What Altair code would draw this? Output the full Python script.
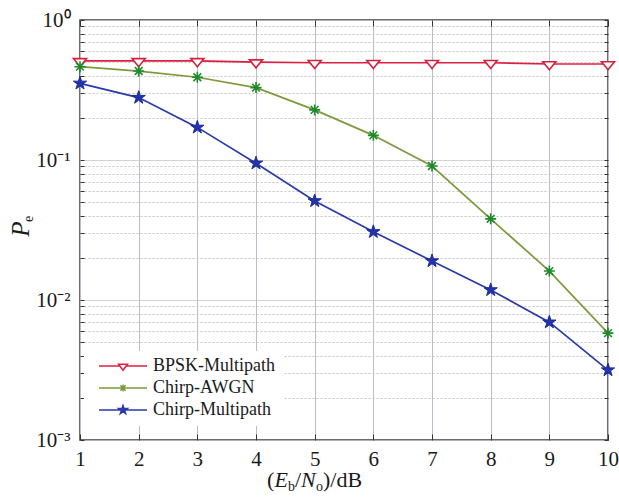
import altair as alt
import pandas as pd

# ---------------- data ----------------
snr_db = [1, 2, 3, 4, 5, 6, 7, 8, 9, 10]
series_names = ["BPSK-Multipath", "Chirp-AWGN", "Chirp-Multipath"]
bpsk_multipath = [0.51, 0.51, 0.51, 0.50, 0.495, 0.495, 0.495, 0.495, 0.485, 0.485]
chirp_awgn = [0.464, 0.432, 0.39, 0.329, 0.228, 0.150, 0.0906, 0.038, 0.0161, 0.0058]
chirp_multipath = [0.353, 0.279, 0.171, 0.0948, 0.0510, 0.0307, 0.0190, 0.0118, 0.00694, 0.00316]

x_ticks = [1, 2, 3, 4, 5, 6, 7, 8, 9, 10]
y_major_ticks = [0.001, 0.01, 0.1, 1]
y_major_labels = ["10⁻³", "10⁻²", "10⁻¹", "10⁰"]
y_minor_ticks = [0.002, 0.003, 0.004, 0.005, 0.006, 0.007, 0.008, 0.009,
                 0.02, 0.03, 0.04, 0.05, 0.06, 0.07, 0.08, 0.09,
                 0.2, 0.3, 0.4, 0.5, 0.6, 0.7, 0.8, 0.9]

x_title_parts = ["(", "E", "b", "/", "N", "o", ")/dB"]
y_title_parts = ["P", "e"]

df = pd.DataFrame({
    "snr": snr_db * 3,
    "series": [series_names[0]] * 10 + [series_names[1]] * 10 + [series_names[2]] * 10,
    "pe": bpsk_multipath + chirp_awgn + chirp_multipath,
})

# ---------------- styles ----------------
FONT = "Liberation Serif"
line_colors = ["#dc2040", "#7d9a3c", "#2a3aa8"]
legend_fills = ["white", "white", "#2433a8"]

tri_path = "M-1,-0.35L1,-0.35L0,0.88Z"
ast_path = "M-1,0L1,0M0,-1L0,1M-0.7,-0.7L0.7,0.7M-0.7,0.7L0.7,-0.7"
star_path = ("M0,-1L0.2245,-0.309L0.951,-0.309L0.363,0.118L0.588,0.809L0,0.382"
             "L-0.588,0.809L-0.363,0.118L-0.951,-0.309L-0.2245,-0.309Z")

leg_tri = "M-4,0L-0.53,0M0.53,0L4,0M-0.75,-0.3L0.75,-0.3L0,0.7Z"
leg_ast = "M-4,0L4,0M0,-0.6L0,0.6M-0.45,-0.45L0.45,0.45M-0.45,0.45L0.45,-0.45"
leg_star = ("M-4,0L4,0M0,-0.75L0.168,-0.232L0.713,-0.232L0.272,0.089L0.441,0.607L0,0.287"
            "L-0.441,0.607L-0.272,0.089L-0.713,-0.232L-0.168,-0.232Z")

x_scale = alt.Scale(domain=[1, 10], nice=False, zero=False)
y_scale = alt.Scale(type="log", domain=[0.001, 1], nice=False)

label_expr = " : ".join(
    f"datum.value == {v} ? '{l}'" for v, l in zip(y_major_ticks, y_major_labels)
) + " : ''"
major_test = "indexof([" + ",".join(str(v) for v in y_major_ticks) + "], datum.value) >= 0"

x_main_axis = alt.Axis(values=x_ticks, grid=True, gridColor="#b9bdc9", gridWidth=1,
                       ticks=False, domain=False, labelFont=FONT, labelFontSize=21,
                       labelColor="#1a1a1a", labelPadding=8, title=None, labelFlush=False)
y_main_axis = alt.Axis(values=y_major_ticks + y_minor_ticks, grid=True,
                       gridColor="#c6c6c6", gridWidth=1,
                       gridDash={"condition": {"test": major_test, "value": [1, 0]}, "value": [2, 2]},
                       ticks=False, domain=False, labelExpr=label_expr, labelFont=FONT,
                       labelFontSize=21, labelColor="#1a1a1a", labelPadding=10, title=None)

legend = alt.Legend(
    title=None, orient="none", legendX=4, legendY=331, direction="vertical",
    fillColor="white", strokeColor="white", padding=6, rowPadding=4,
    labelFont=FONT, labelFontSize=18, labelColor="#1a1a1a",
    symbolSize=144, symbolStrokeWidth=1.5, symbolOffset=24, labelOffset=21,
    symbolOpacity=1, symbolFillColor="white",
)

color_scale = alt.Scale(domain=series_names, range=line_colors)

base = alt.Chart(df)

# legend-only layer (draws no marks, supplies the merged colour/fill/shape legend)
legend_layer = base.transform_filter("false").mark_point(opacity=1, filled=False, strokeWidth=1.5).encode(
    x=alt.X("snr:Q", scale=x_scale, axis=None),
    y=alt.Y("pe:Q", scale=y_scale, axis=None),
    color=alt.Color("series:N", scale=color_scale, legend=legend),
    fill=alt.Fill("series:N", scale=alt.Scale(domain=series_names, range=legend_fills), legend=legend),
    shape=alt.Shape("series:N", scale=alt.Scale(domain=series_names,
                                                range=[leg_tri, leg_ast, leg_star]), legend=legend),
)

lines = base.mark_line(strokeWidth=1.7).encode(
    x=alt.X("snr:Q", scale=x_scale, axis=x_main_axis),
    y=alt.Y("pe:Q", scale=y_scale, axis=y_main_axis),
    color=alt.Color("series:N", scale=color_scale, legend=legend),
)

def markers(name, **kw):
    return base.transform_filter(alt.datum.series == name).mark_point(opacity=1, **kw).encode(
        x=alt.X("snr:Q", scale=x_scale, axis=None),
        y=alt.Y("pe:Q", scale=y_scale, axis=None),
    )

m_bpsk = markers(series_names[0], shape=tri_path, size=169, filled=False, fill="white",
                 stroke="#d8203c", strokeWidth=1.6)
m_awgn = markers(series_names[1], shape=ast_path, size=121, filled=False,
                 stroke="#1f8a2a", strokeWidth=1.6)
m_mp = markers(series_names[2], shape=star_path, size=196, filled=True, fill="#2433a8",
               stroke="#1c2a9c", strokeWidth=1.0)

def tick_layer(xorient, yorient):
    xa = alt.Axis(orient=xorient, values=x_ticks, labels=False, grid=False, domain=False,
                  ticks=True, tickSize=6, tickColor="#333333", tickWidth=1, offset=-6, title=None)
    ya = alt.Axis(orient=yorient, values=y_major_ticks + y_minor_ticks, labels=False, grid=False,
                  domain=False, ticks=True, tickSize=4, tickColor="#333333", tickWidth=1,
                  offset=-4, title=None)
    return base.transform_filter("false").mark_point(opacity=0).encode(
        x=alt.X("snr:Q", scale=x_scale, axis=xa),
        y=alt.Y("pe:Q", scale=y_scale, axis=ya),
    )

ticks_bl = tick_layer("bottom", "left")
ticks_tr = tick_layer("top", "right")

def text_piece(txt, x, y, size, italic=False, angle=0):
    return alt.Chart(pd.DataFrame({"t": [txt]})).mark_text(
        font=FONT, fontSize=size, fontStyle="italic" if italic else "normal",
        align="left" if angle == 0 else "center", baseline="alphabetic" if angle == 0 else "middle",
        angle=angle, color="#1a1a1a",
    ).encode(text="t:N", x=alt.value(x), y=alt.value(y))

# x title pieces "(E_b/N_o)/dB"
XT = 467
xt = [
    text_piece(x_title_parts[0], 187, XT, 22),
    text_piece(x_title_parts[1], 194.5, XT, 22, italic=True),
    text_piece(x_title_parts[2], 208, XT + 4, 14),
    text_piece(x_title_parts[3], 215, XT, 22),
    text_piece(x_title_parts[4], 221, XT, 22, italic=True),
    text_piece(x_title_parts[5], 236, XT + 4, 14),
    text_piece(x_title_parts[6], 243, XT, 22),
]
# y title "P_e"
yt = [
    text_piece(y_title_parts[0], -59, 209, 25, italic=True, angle=270),
    text_piece(y_title_parts[1], -51, 199, 14, angle=270),
]

chart = alt.layer(
    legend_layer, lines, m_bpsk, m_awgn, m_mp, ticks_bl, ticks_tr, *xt, *yt
).resolve_axis(
    x="independent", y="independent"
).properties(
    width=528, height=420,
    autosize=alt.AutoSizeParams(type="none"),
    padding={"left": 80, "top": 20, "right": 11, "bottom": 64},
    background="white",
).configure_view(stroke="#3c3c3c", strokeWidth=1.5)

chart.save("out.html", embed_options={"renderer": "svg", "actions": False})
